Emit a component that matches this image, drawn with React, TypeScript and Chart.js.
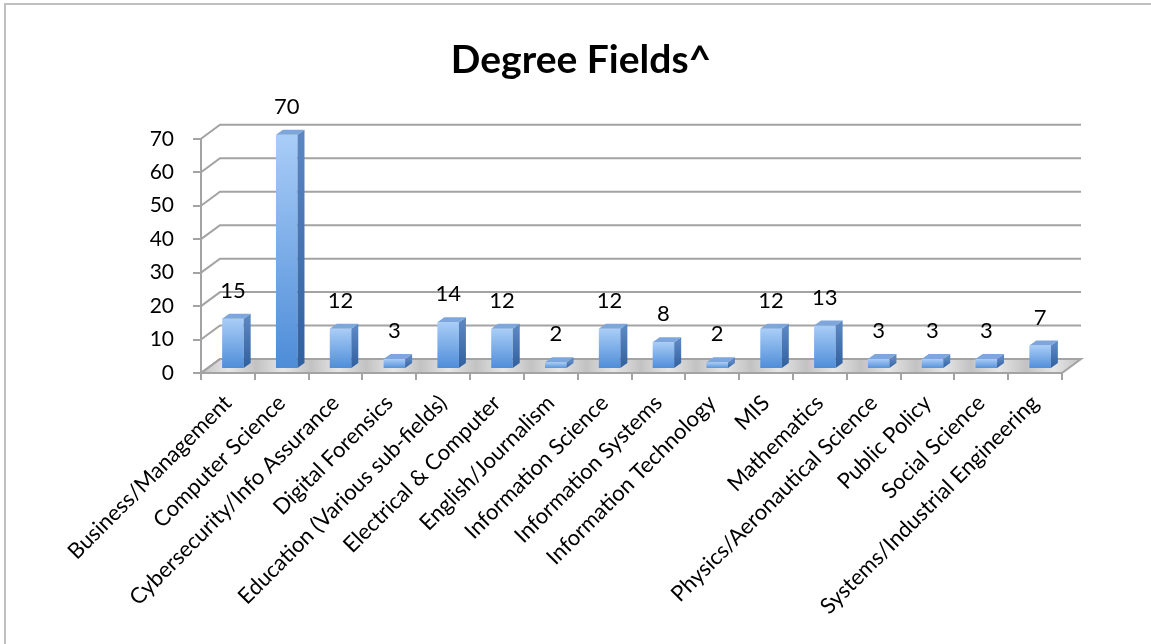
import React, { useEffect, useRef } from "react";
import { Chart, registerables } from "chart.js";

Chart.register(...registerables);

// Degree fields and how many people hold each
const categories = [
  "Business/Management",
  "Computer Science",
  "Cybersecurity/Info Assurance",
  "Digital Forensics",
  "Education (Various sub-fields)",
  "Electrical & Computer",
  "English/Journalism",
  "Information Science",
  "Information Systems",
  "Information Technology",
  "MIS",
  "Mathematics",
  "Physics/Aeronautical Science",
  "Public Policy",
  "Social Science",
  "Systems/Industrial Engineering",
];
const counts = [15, 70, 12, 3, 14, 12, 2, 12, 8, 2, 12, 13, 3, 3, 3, 7];

const yMin = 0;
const yMax = 70;
const yStep = 10;

const TITLE = "Degree Fields^";
const FONT = "Lato, 'Open Sans', sans-serif";

// Pseudo-3D geometry (pixels)
const WALL_DX = 19;
const WALL_DY = 14;
const BAR_SHIFT_X = 5;
const BAR_SHIFT_Y = 4;
const BAR_DX = 7;
const BAR_DY = 5;
const GRID_COLOR = "#a3a3a3";

const box3d = {
  id: "box3d",
  beforeDatasetsDraw(chart: any) {
    const { ctx, chartArea } = chart;
    const ys = chart.scales.y;
    const left = chartArea.left;
    const right = chartArea.right;
    const y0 = ys.getPixelForValue(0);

    ctx.save();
    // floor
    const floor = ctx.createLinearGradient(left, 0, right + WALL_DX, 0);
    const n = categories.length * 2;
    for (let i = 0; i <= n; i++) {
      floor.addColorStop(i / n, i % 2 === 0 ? "#c2c2c2" : "#e6e6e6");
    }
    ctx.beginPath();
    ctx.moveTo(left, y0);
    ctx.lineTo(right, y0);
    ctx.lineTo(right + WALL_DX, y0 - WALL_DY);
    ctx.lineTo(left + WALL_DX, y0 - WALL_DY);
    ctx.closePath();
    ctx.fillStyle = floor;
    ctx.fill();
    ctx.strokeStyle = GRID_COLOR;
    ctx.lineWidth = 2;
    ctx.stroke();

    // side wall and back wall gridlines
    for (let v = yMin; v <= yMax; v += yStep) {
      const y = ys.getPixelForValue(v);
      ctx.beginPath();
      ctx.moveTo(left, y);
      ctx.lineTo(left + WALL_DX, y - WALL_DY);
      ctx.lineTo(right + WALL_DX, y - WALL_DY);
      ctx.stroke();
    }
    ctx.restore();

    ctx.save();
    ctx.translate(BAR_SHIFT_X, -BAR_SHIFT_Y);
  },
  afterDatasetsDraw(chart: any) {
    const { ctx } = chart;
    const meta = chart.getDatasetMeta(0);
    meta.data.forEach((el: any) => {
      const { x, y, base, width } = el.getProps(["x", "y", "base", "width"], true);
      const xl = x - width / 2;
      const xr = x + width / 2;
      // right side face
      const side = ctx.createLinearGradient(0, y, 0, base);
      side.addColorStop(0, "#5a86c2");
      side.addColorStop(1, "#31609f");
      ctx.beginPath();
      ctx.moveTo(xr, y);
      ctx.lineTo(xr + BAR_DX, y - BAR_DY);
      ctx.lineTo(xr + BAR_DX, base - BAR_DY);
      ctx.lineTo(xr, base);
      ctx.closePath();
      ctx.fillStyle = side;
      ctx.fill();
      // top face
      ctx.beginPath();
      ctx.moveTo(xl, y);
      ctx.lineTo(xl + BAR_DX, y - BAR_DY);
      ctx.lineTo(xr + BAR_DX, y - BAR_DY);
      ctx.lineTo(xr, y);
      ctx.closePath();
      ctx.fillStyle = "#7da6dc";
      ctx.fill();
    });
    ctx.restore();

    // value labels
    ctx.save();
    ctx.fillStyle = "#000";
    ctx.font = `22px ${FONT}`;
    ctx.textAlign = "center";
    ctx.textBaseline = "middle";
    meta.data.forEach((el: any, i: number) => {
      const { x, y } = el.getProps(["x", "y"], true);
      ctx.fillText(String(counts[i]), x + BAR_SHIFT_X, y - BAR_SHIFT_Y - 28);
    });
    ctx.restore();
  },
};

export default function App() {
  const ref = useRef<HTMLCanvasElement>(null);

  useEffect(() => {
    const chart = new Chart(ref.current!, {
      type: "bar",
      data: {
        labels: categories,
        datasets: [
          {
            data: counts,
            clip: false,
            barPercentage: 0.4,
            categoryPercentage: 1,
            backgroundColor: (c: any) => {
              const ch = c.chart;
              if (!ch.chartArea) return "#6fa3e8";
              const ys = ch.scales.y;
              const top = ys.getPixelForValue(c.raw as number);
              const bot = ys.getPixelForValue(0);
              const g = ch.ctx.createLinearGradient(0, top, 0, bot);
              g.addColorStop(0, "#a9cdf7");
              g.addColorStop(1, "#4d8cd8");
              return g;
            },
            borderWidth: 0,
          } as any,
        ],
      },
      options: {
        responsive: false,
        devicePixelRatio: 1,
        animation: false,
        layout: { padding: { left: 100, right: 89, top: 0, bottom: 0 } },
        plugins: {
          legend: { display: false },
          tooltip: { enabled: false },
          title: {
            display: true,
            text: TITLE,
            color: "#000",
            font: { family: FONT, size: 39, weight: "bold", lineHeight: 1.2 },
            padding: { top: 37, bottom: 55 },
          },
        },
        scales: {
          x: {
            grid: {
              offset: true,
              drawOnChartArea: false,
              drawTicks: true,
              tickLength: 7,
              color: GRID_COLOR,
              lineWidth: 2,
            },
            border: { display: true, color: GRID_COLOR, width: 2 },
            ticks: {
              autoSkip: false,
              minRotation: 45,
              maxRotation: 45,
              color: "#000",
              font: { family: FONT, size: 22 },
              padding: 10,
            },
            afterFit: (s: any) => {
              s.height = 271;
            },
          },
          y: {
            min: yMin,
            max: yMax,
            grid: {
              drawOnChartArea: false,
              drawTicks: true,
              tickLength: 8,
              color: GRID_COLOR,
              lineWidth: 2,
            },
            border: { display: true, color: GRID_COLOR, width: 2 },
            ticks: {
              stepSize: yStep,
              color: "#000",
              font: { family: FONT, size: 21 },
              padding: 19,
            },
            afterFit: (s: any) => {
              s.width = 101;
            },
          },
        },
      },
      plugins: [box3d],
    });
    return () => chart.destroy();
  }, []);

  return (
    <div
      style={{
        position: "fixed",
        left: 0,
        top: 0,
        width: 1151,
        height: 644,
        overflow: "hidden",
        background: "#fff",
      }}
    >
      <div
        style={{
          position: "absolute",
          left: 4,
          top: 3,
          width: 1400,
          height: 900,
          border: "2px solid #c0c0c0",
          boxSizing: "border-box",
        }}
      />
      <canvas
        ref={ref}
        width={1151}
        height={644}
        style={{ position: "absolute", left: 0, top: 0 }}
      />
    </div>
  );
}
